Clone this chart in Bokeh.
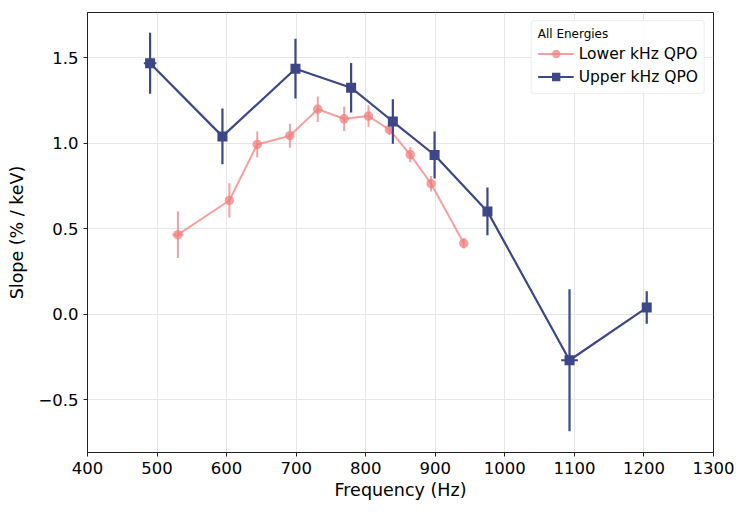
from bokeh.plotting import figure
from bokeh.models import FixedTicker, Legend, LegendItem
from bokeh.embed import file_html
from bokeh.resources import INLINE

# Lower kHz QPO
lower_freq = [530, 604, 644, 691, 731, 769, 804, 834, 864, 894, 941]
lower_slope = [0.465, 0.665, 0.993, 1.044, 1.199, 1.143, 1.159, 1.079, 0.933, 0.763, 0.414]
lower_err = [0.137, 0.10, 0.075, 0.07, 0.075, 0.072, 0.063, 0.03, 0.045, 0.045, 0.03]
lower_xerr = [8, 0, 0, 0, 0, 0, 0, 0, 0, 0, 0]

# Upper kHz QPO
upper_freq = [490, 594, 699, 779, 839, 899, 975, 1093, 1204]
upper_slope = [1.468, 1.040, 1.436, 1.325, 1.127, 0.931, 0.601, -0.270, 0.038]
upper_err = [0.178, 0.163, 0.175, 0.145, 0.13, 0.138, 0.14, 0.416, 0.095]
upper_xerr = [9, 0, 0, 0, 0, 0, 0, 12, 0]

x_ticks = [400, 500, 600, 700, 800, 900, 1000, 1100, 1200, 1300]
y_ticks = [-0.5, 0.0, 0.5, 1.0, 1.5]
y_labels = {-0.5: "\u22120.5", 0.0: "0.0", 0.5: "0.5", 1.0: "1.0", 1.5: "1.5"}

low_col = "#f08080"
up_col = "#3d4687"

p = figure(width=738, height=506, output_backend="svg", toolbar_location=None,
           x_range=(400, 1300), y_range=(-0.81, 1.765),
           min_border_left=87, min_border_right=25, min_border_top=12, min_border_bottom=54)

p.outline_line_color = "#222222"
p.outline_line_width = 1
p.background_fill_color = "white"
p.border_fill_color = "white"

for ax in (p.xaxis[0], p.yaxis[0]):
    ax.axis_line_color = "#222222"
    ax.major_tick_line_color = "#222222"
    ax.major_tick_out = 4
    ax.major_tick_in = 0
    ax.minor_tick_line_color = None
    ax.major_label_text_font = "DejaVu Sans"
    ax.major_label_text_font_size = "16.5px"
    ax.major_label_text_color = "black"
    ax.axis_label_text_font = "DejaVu Sans"
    ax.axis_label_text_font_size = "17.5px"
    ax.axis_label_text_font_style = "normal"
    ax.axis_label_text_color = "black"

p.xaxis.ticker = FixedTicker(ticks=x_ticks)
p.yaxis.ticker = FixedTicker(ticks=y_ticks)
p.yaxis.major_label_overrides = y_labels
p.xaxis.axis_label = "Frequency (Hz)"
p.yaxis.axis_label = "Slope (% / keV)"
p.xaxis.axis_label_standoff = 3
p.yaxis.axis_label_standoff = 8
p.xaxis.major_label_standoff = 5
p.yaxis.major_label_standoff = 5

p.xgrid.grid_line_color = "#e6e6e6"
p.ygrid.grid_line_color = "#e6e6e6"
p.xgrid.grid_line_width = 1
p.ygrid.grid_line_width = 1

# Lower series
lo_y0 = [s - e for s, e in zip(lower_slope, lower_err)]
lo_y1 = [s + e for s, e in zip(lower_slope, lower_err)]
lo_x0 = [f - e for f, e in zip(lower_freq, lower_xerr)]
lo_x1 = [f + e for f, e in zip(lower_freq, lower_xerr)]
l_line = p.line(lower_freq, lower_slope, line_color=low_col, line_width=2, line_alpha=0.75)
l_err = p.segment(x0=lower_freq, y0=lo_y0, x1=lower_freq, y1=lo_y1,
                  line_color=low_col, line_width=2, line_alpha=0.75)
l_xerr = p.segment(x0=lo_x0, y0=lower_slope, x1=lo_x1, y1=lower_slope,
                   line_color=low_col, line_width=2, line_alpha=0.75)
l_mark = p.scatter(lower_freq, lower_slope, marker="circle", size=9.5,
                   fill_color=low_col, line_color=None, fill_alpha=0.75)

# Upper series
up_y0 = [s - e for s, e in zip(upper_slope, upper_err)]
up_y1 = [s + e for s, e in zip(upper_slope, upper_err)]
up_x0 = [f - e for f, e in zip(upper_freq, upper_xerr)]
up_x1 = [f + e for f, e in zip(upper_freq, upper_xerr)]
u_line = p.line(upper_freq, upper_slope, line_color=up_col, line_width=2.2)
u_err = p.segment(x0=upper_freq, y0=up_y0, x1=upper_freq, y1=up_y1,
                  line_color=up_col, line_width=2.2)
u_xerr = p.segment(x0=up_x0, y0=upper_slope, x1=up_x1, y1=upper_slope,
                   line_color=up_col, line_width=2.2)
u_mark = p.scatter(upper_freq, upper_slope, marker="square", size=10,
                   fill_color=up_col, line_color=None)

legend = Legend(items=[
    LegendItem(label="Lower kHz QPO", renderers=[l_line, l_mark]),
    LegendItem(label="Upper kHz QPO", renderers=[u_line, u_mark]),
], location="top_right")
legend.title = "All Energies"
legend.title_text_font = "DejaVu Sans"
legend.title_text_font_size = "12px"
legend.title_text_font_style = "normal"
legend.title_text_color = "black"
legend.title_standoff = 2
legend.label_text_font = "DejaVu Sans"
legend.label_text_font_size = "15.5px"
legend.label_text_color = "black"
legend.border_line_color = "#dddddd"
legend.border_line_width = 1
legend.border_radius = 4
legend.background_fill_alpha = 0.85
legend.margin = 8
legend.padding = 6
legend.spacing = 2
legend.glyph_width = 36
legend.glyph_height = 21
legend.label_height = 21
p.add_layout(legend)

open("out.html", "w").write(file_html(p, INLINE))
